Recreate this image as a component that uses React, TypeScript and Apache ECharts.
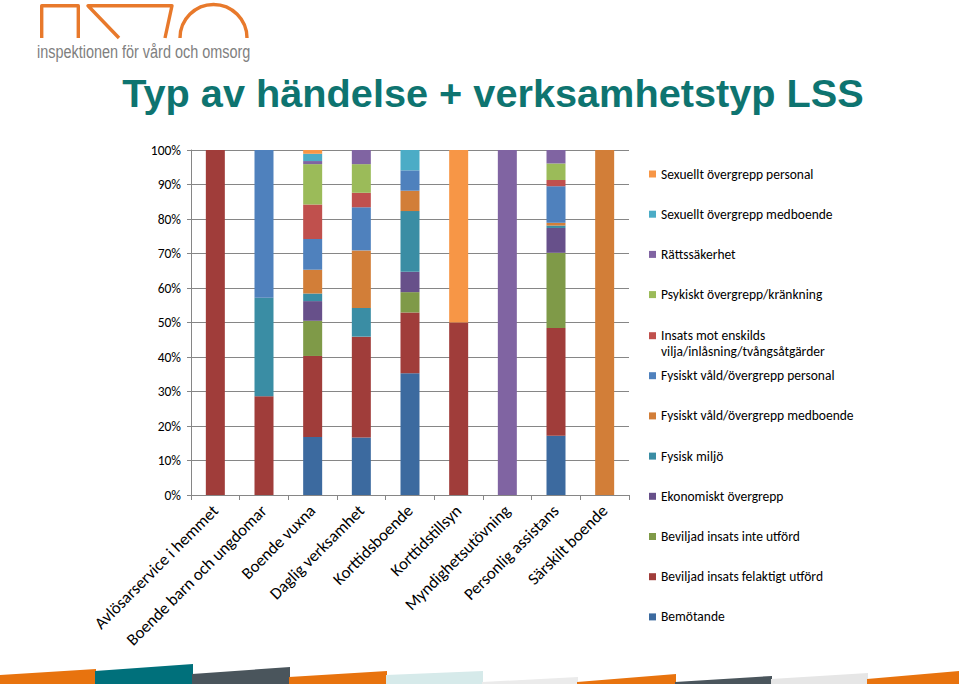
import React, { useEffect, useRef } from "react";
import * as echarts from "echarts";

const categories = [
  "Avlösarservice i hemmet",
  "Boende barn och ungdomar",
  "Boende vuxna",
  "Daglig verksamhet",
  "Korttidsboende",
  "Korttidstillsyn",
  "Myndighetsutövning",
  "Personlig assistans",
  "Särskilt boende",
];

// Stacked from bottom to top (percent of each category)
const bemotande = [0, 0, 16.8, 16.7, 35.3, 0, 0, 17.2, 0];
const beviljadFelaktigt = [100, 28.6, 23.5, 29.2, 17.6, 50, 0, 31.2, 0];
const beviljadInteUtford = [0, 0, 10.2, 0, 5.9, 0, 0, 21.8, 0];
const ekonomiskt = [0, 0, 5.7, 0, 5.9, 0, 0, 7.2, 0];
const fysiskMiljo = [0, 28.6, 2.2, 8.3, 17.6, 0, 0, 0.7, 0];
const fysisktMedboende = [0, 0, 6.9, 16.7, 5.9, 0, 0, 0.8, 100];
const fysisktPersonal = [0, 42.8, 8.9, 12.5, 5.9, 0, 0, 10.6, 0];
const insatsMot = [0, 0, 10.0, 4.2, 0, 0, 0, 1.8, 0];
const psykiskt = [0, 0, 11.7, 8.3, 0, 0, 0, 4.8, 0];
const rattssakerhet = [0, 0, 0.9, 4.1, 0, 0, 100, 3.9, 0];
const sexuelltMedboende = [0, 0, 2.1, 0, 5.9, 0, 0, 0, 0];
const sexuelltPersonal = [0, 0, 1.1, 0, 0, 50, 0, 0, 0];

const yTicks = [0, 10, 20, 30, 40, 50, 60, 70, 80, 90, 100];

const seriesDefs = [
  { name: "Bemötande", data: bemotande, color: "#3C6A9F" },
  { name: "Beviljad insats felaktigt utförd", data: beviljadFelaktigt, color: "#A03D3A" },
  { name: "Beviljad insats inte utförd", data: beviljadInteUtford, color: "#7F9A48" },
  { name: "Ekonomiskt övergrepp", data: ekonomiskt, color: "#67508A" },
  { name: "Fysisk miljö", data: fysiskMiljo, color: "#3A8DA4" },
  { name: "Fysiskt våld/övergrepp medboende", data: fysisktMedboende, color: "#D27E38" },
  { name: "Fysiskt våld/övergrepp personal", data: fysisktPersonal, color: "#4F81BD" },
  { name: "Insats mot enskilds vilja/inlåsning/tvångsåtgärder", data: insatsMot, color: "#C0504D" },
  { name: "Psykiskt övergrepp/kränkning", data: psykiskt, color: "#9BBB59" },
  { name: "Rättssäkerhet", data: rattssakerhet, color: "#8064A2" },
  { name: "Sexuellt övergrepp medboende", data: sexuelltMedboende, color: "#4BACC6" },
  { name: "Sexuellt övergrepp personal", data: sexuelltPersonal, color: "#F79646" },
];

const FONT = "Carlito, Lato, 'Noto Sans', sans-serif";

export default function App() {
  const ref = useRef<HTMLDivElement>(null);

  useEffect(() => {
    if (!ref.current) return;
    const chart = echarts.init(ref.current, undefined, { renderer: "svg" });

    const legendBase = {
      orient: "vertical" as const,
      left: 649,
      padding: 0,
      itemWidth: 7,
      itemHeight: 7,
      icon: "rect",
      selectedMode: false,
      textStyle: { fontFamily: FONT, fontSize: 13.5, color: "#000", lineHeight: 15 },
    };

    const strip = [
      { x0: 0, x1: 96, yl: 675, yr: 669, c: "#E8730E" },
      { x0: 95, x1: 193, yl: 671, yr: 664, c: "#00707B" },
      { x0: 192, x1: 290, yl: 674, yr: 667, c: "#4A555C" },
      { x0: 289, x1: 387, yl: 677, yr: 671, c: "#E8730E" },
      { x0: 386, x1: 483, yl: 675, yr: 671, c: "#D6EAEA" },
      { x0: 482, x1: 578, yl: 682, yr: 677, c: "#EBEBEB" },
      { x0: 577, x1: 676, yl: 682, yr: 674, c: "#E8730E" },
      { x0: 675, x1: 772, yl: 682, yr: 676, c: "#4A555C" },
      { x0: 771, x1: 868, yl: 679, yr: 673, c: "#E6E6E6" },
      { x0: 867, x1: 959, yl: 679, yr: 671, c: "#E8730E" },
    ];

    const option: any = {
      animation: false,
      backgroundColor: "#fff",
      grid: { left: 191, right: 330, top: 150, bottom: 189, containLabel: false },
      xAxis: {
        type: "category",
        data: categories,
        axisLine: { lineStyle: { color: "#868686", width: 1 } },
        axisTick: { show: true, length: 5, lineStyle: { color: "#868686" } },
        axisLabel: {
          interval: 0,
          rotate: 45,
          margin: 13,
          fontFamily: FONT,
          fontSize: 16.8,
          color: "#000",
        },
      },
      yAxis: {
        type: "value",
        min: 0,
        max: 100,
        interval: 10,
        axisLine: { show: true, lineStyle: { color: "#868686", width: 1 } },
        axisTick: { show: true, length: 4, lineStyle: { color: "#868686" } },
        axisLabel: {
          formatter: (v: number) => (yTicks.includes(v) ? v + "%" : ""),
          fontFamily: FONT,
          fontSize: 13.5,
          color: "#000",
          margin: 10,
        },
        splitLine: { lineStyle: { color: "#868686", width: 1 } },
      },
      legend: [
        {
          ...legendBase,
          top: 166.5,
          itemGap: 25.2,
          data: [
            "Sexuellt övergrepp personal",
            "Sexuellt övergrepp medboende",
            "Rättssäkerhet",
            "Psykiskt övergrepp/kränkning",
          ],
        },
        {
          ...legendBase,
          top: 311.7,
          itemGap: 0,
          formatter: () => " \nInsats mot enskilds\nvilja/inlåsning/tvångsåtgärder",
          textStyle: { ...legendBase.textStyle, lineHeight: 16 },
          data: ["Insats mot enskilds vilja/inlåsning/tvångsåtgärder"],
        },
        {
          ...legendBase,
          top: 368.2,
          itemGap: 25.2,
          data: [
            "Fysiskt våld/övergrepp personal",
            "Fysiskt våld/övergrepp medboende",
            "Fysisk miljö",
            "Ekonomiskt övergrepp",
            "Beviljad insats inte utförd",
            "Beviljad insats felaktigt utförd",
            "Bemötande",
          ],
        },
      ],
      series: seriesDefs.map((s) => ({
        name: s.name,
        type: "bar",
        stack: "total",
        barWidth: 19,
        data: s.data,
        itemStyle: { color: s.color },
        emphasis: { disabled: true },
      })),
      graphic: [
        // logo shapes
        {
          type: "polyline",
          shape: { points: [[41.7, 38], [41.7, 5.7], [78.3, 5.7], [78.3, 38]] },
          style: { stroke: "#E8792B", lineWidth: 3.4, fill: null, lineJoin: "round" },
        },
        {
          type: "polyline",
          shape: { points: [[119, 38], [88, 5.7], [172, 5.7], [165, 38]] },
          style: { stroke: "#E8792B", lineWidth: 3.4, fill: null, lineJoin: "round" },
        },
        {
          type: "arc",
          shape: { cx: 213.5, cy: 38, r: 33.5, startAngle: Math.PI, endAngle: Math.PI * 2, clockwise: true },
          style: { stroke: "#E8792B", lineWidth: 3.4, fill: null },
        },
        {
          type: "text",
          x: 37,
          y: 61,
          scaleX: 0.76,
          style: {
            text: "inspektionen för vård och omsorg",
            fontFamily: "'Liberation Sans', Arial, sans-serif",
            fontSize: 19,
            fill: "#808080",
            verticalAlign: "bottom",
          },
        },
        // title
        {
          type: "text",
          x: 493,
          y: 92.5,
          style: {
            text: "Typ av händelse + verksamhetstyp LSS",
            fontFamily: "'Liberation Sans', Arial, sans-serif",
            fontWeight: "bold",
            fontSize: 39.7,
            fill: "#0E7470",
            align: "center",
            verticalAlign: "middle",
          },
        },
        // bottom decorative strip
        ...strip.map((p) => ({
          type: "polygon",
          shape: { points: [[p.x0, 684], [p.x0, p.yl], [p.x1, p.yr], [p.x1, 684]] },
          style: { fill: p.c },
          silent: true,
        })),
      ],
    };

    chart.setOption(option);
    return () => chart.dispose();
  }, []);

  return (
    <div
      ref={ref}
      style={{ position: "fixed", left: 0, top: 0, width: 959, height: 684 }}
    />
  );
}
